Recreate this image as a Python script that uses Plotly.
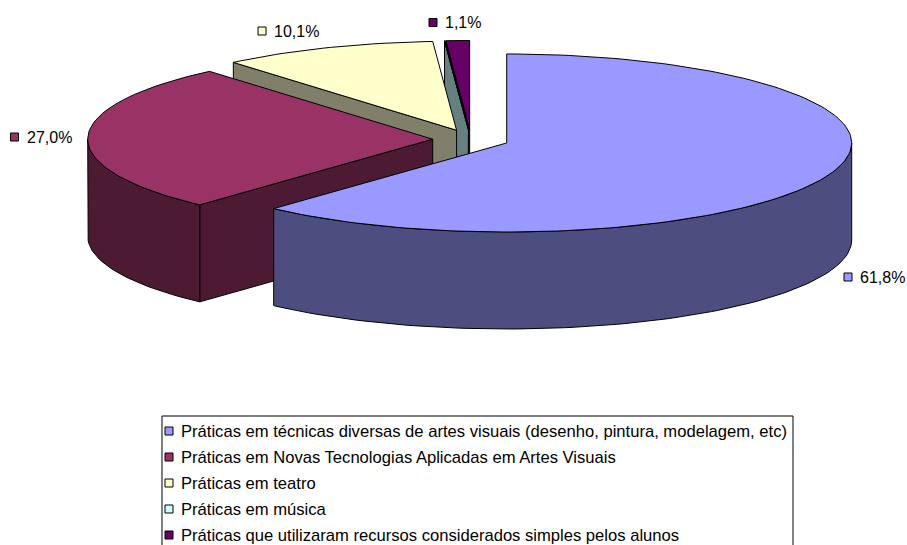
import numpy as np
import plotly.graph_objects as go

# ---- data -------------------------------------------------------------
categories = [
    "Práticas em técnicas diversas de artes visuais (desenho, pintura, modelagem, etc)",
    "Práticas em Novas Tecnologias Aplicadas em Artes Visuais",
    "Práticas em teatro",
    "Práticas em música",
    "Práticas que utilizaram recursos considerados simples pelos alunos",
]
percent = [61.8, 27.0, 10.1, 0.0, 1.1]

# ---- style ------------------------------------------------------------
top_colors = ["#9999FF", "#993366", "#FFFFCC", "#CCFFFF", "#660066"]
side_colors = ["#4D4D80", "#4D1A33", "#80806A", "#668080", "#330033"]
FONT = "Liberation Sans, Arial, sans-serif"
LABEL_FONT_SIZE = 16
LEGEND_FONT_SIZE = 16.6

# pie geometry in page pixels (y grows downward)
W, H = 907, 545
CX, CY = 471.0, 139.4      # pie centre (top face)
RX, RY = 345.0, 89.0       # ellipse radii of the top face
DEPTH = 97.0               # visible thickness
EXPLODE = 0.111            # slice offset as a fraction of radius

# data-label anchors (swatch centre) and legend box
label_anchor = [(848, 277), (14.5, 137), (262, 31), None, (433, 22.5)]
LABEL_TEXT_GAP = 10
LEG_LEFT, LEG_TOP, LEG_RIGHT = 162, 416, 793
LEG_ROW0, LEG_ROW_STEP = 431, 26


def rim(theta_deg, cx, cy, z=0.0):
    t = np.radians(theta_deg)
    return cx + RX * np.sin(t), cy - RY * np.cos(t) + z


def arc(a0, a1, cx, cy, z=0.0):
    n = max(2, int(abs(a1 - a0) / 1.5) + 2)
    th = np.linspace(a0, a1, n)
    xs, ys = rim(th, cx, cy, z)
    return list(xs), list(ys)


def faces_for(i, a0, a1):
    mid = np.radians((a0 + a1) / 2)
    cx = CX + EXPLODE * RX * np.sin(mid)
    cy = CY - EXPLODE * RY * np.cos(mid)
    polys = []
    # cut faces (radial walls) facing the viewer
    for ang, normal in ((a0, a0 - 90), (a1, a1 + 90)):
        if -np.cos(np.radians(normal)) > 1e-6:
            rx, ry = rim(ang, cx, cy)
            xs = [cx, rx, rx, cx, cx]
            ys = [cy, ry, ry + DEPTH, cy + DEPTH, cy]
            polys.append((xs, ys, side_colors[i]))
    # outer wall: the front half of the rim (90..270 deg)
    lo, hi = max(a0, 90), min(a1, 270)
    if hi > lo:
        tx, ty = arc(lo, hi, cx, cy)
        bx, by = arc(hi, lo, cx, cy, DEPTH)
        polys.append((tx + bx + [tx[0]], ty + by + [ty[0]], side_colors[i]))
    # top face
    ax, ay = arc(a0, a1, cx, cy)
    polys.append(([cx] + ax + [cx], [cy] + ay + [cy], top_colors[i]))
    return mid, polys


total = sum(percent)
slices = []
start = 0.0
for i, p in enumerate(percent):
    end = start + 360.0 * p / total
    mid, polys = faces_for(i, start, end)
    slices.append((-np.cos(mid), polys))
    start = end

fig = go.Figure()

# painter's order: slices farthest from the viewer first
for _, polys in sorted(slices, key=lambda s: s[0]):
    for xs, ys, col in polys:
        fig.add_trace(go.Scatter(
            x=xs, y=ys, mode="lines", fill="toself", fillcolor=col,
            line=dict(color="black", width=1), hoverinfo="skip",
            showlegend=False,
        ))

# data labels: swatch + percentage text
lab_x, lab_y, lab_c = [], [], []
annotations = []
for i, p in enumerate(percent):
    if label_anchor[i] is None or p == 0:
        continue
    x, y = label_anchor[i]
    lab_x.append(x)
    lab_y.append(y)
    lab_c.append(top_colors[i])
    annotations.append(dict(
        x=x + LABEL_TEXT_GAP, y=y, xref="x", yref="y", xanchor="left",
        yanchor="middle", text=f"{p:.1f}".replace(".", ",") + "%",
        showarrow=False,
        font=dict(family=FONT, size=LABEL_FONT_SIZE, color="black"),
    ))

# legend rows
leg_x, leg_y = [], []
for i, name in enumerate(categories):
    y = LEG_ROW0 + i * LEG_ROW_STEP
    leg_x.append(LEG_LEFT + 7)
    leg_y.append(y)
    annotations.append(dict(
        x=LEG_LEFT + 17, y=y, xref="x", yref="y", xanchor="left",
        yanchor="middle", text=name, showarrow=False,
        font=dict(family=FONT, size=LEGEND_FONT_SIZE, color="black"),
    ))

fig.add_trace(go.Scatter(
    x=lab_x + leg_x, y=lab_y + leg_y, mode="markers",
    marker=dict(symbol="square", size=8, color=lab_c + top_colors,
                line=dict(color="black", width=1)),
    hoverinfo="skip", showlegend=False,
))

fig.update_layout(
    width=W, height=H,
    margin=dict(l=0, r=0, t=0, b=0),
    paper_bgcolor="white", plot_bgcolor="white",
    xaxis=dict(range=[0, W], visible=False, fixedrange=True),
    yaxis=dict(range=[H, 0], visible=False, fixedrange=True),
    showlegend=False,
    annotations=annotations,
    shapes=[dict(type="rect", xref="x", yref="y",
                 x0=LEG_LEFT, y0=LEG_TOP, x1=LEG_RIGHT, y1=H + 40,
                 line=dict(color="black", width=1), fillcolor="rgba(0,0,0,0)",
                 layer="below")],
)

fig.write_html("out.html")
